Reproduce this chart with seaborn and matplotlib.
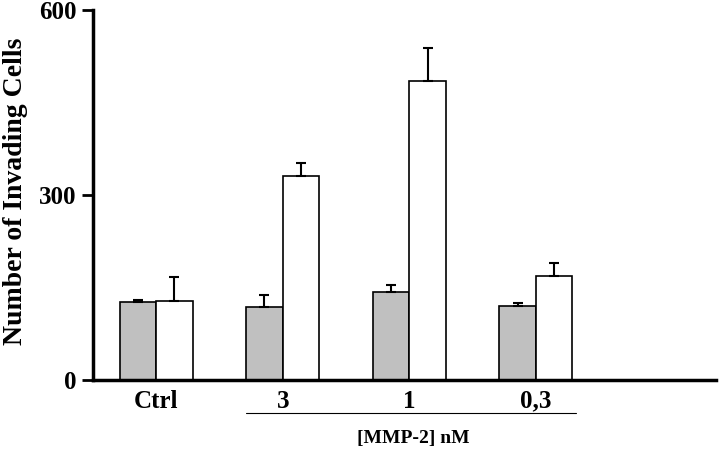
import pandas as pd
import numpy as np
import matplotlib
matplotlib.use("Agg")
import matplotlib.pyplot as plt
import seaborn as sns
from matplotlib.transforms import blended_transform_factory

groups = ["Ctrl", "3", "1", "0,3"]
series = ["gray", "white"]
gray_vals = [126, 118, 143, 120]
gray_err = [4, 20, 10, 4]
white_vals = [128, 330, 485, 168]
white_err = [38, 21, 54, 22]

df = pd.DataFrame({
    "group": groups * 2,
    "series": [series[0]] * 4 + [series[1]] * 4,
    "value": gray_vals + white_vals,
})

sns.set_style("ticks")
plt.rcParams["font.family"] = ["Liberation Serif", "DejaVu Serif"]
plt.rcParams["font.weight"] = "bold"
plt.rcParams["text.color"] = "black"
plt.rcParams["axes.labelcolor"] = "black"
plt.rcParams["axes.edgecolor"] = "black"
plt.rcParams["xtick.color"] = "black"
plt.rcParams["ytick.color"] = "black"

fig = plt.figure(figsize=(7.2, 4.5), dpi=100)
ax = fig.add_axes([0.129, 0.156, 0.865, 0.822])

sns.barplot(data=df, x="group", y="value", hue="series", order=groups,
            hue_order=series, palette={"gray": "#c0c0c0", "white": "white"},
            width=0.577, gap=0, edgecolor="black", linewidth=1.2,
            errorbar=None, legend=False, ax=ax)

# upper-only error bars placed on the drawn bars
errs = gray_err + white_err
for p, e in zip(ax.patches, errs):
    xc = p.get_x() + p.get_width() / 2
    h = p.get_height()
    ax.errorbar([xc], [h], yerr=[[0], [e]], fmt="none", ecolor="black",
                elinewidth=1.5, capsize=3.5, capthick=1.5, zorder=3)

ax.set_ylim(0, 600)
ax.set_xlim(-0.5, 4.42)
ax.set_yticks([0, 300, 600])
ax.set_xlabel("")
ax.set_ylabel("Number of Invading Cells", fontsize=20, fontweight="bold")
ax.yaxis.set_label_coords(-0.104, 0.51)
ax.tick_params(axis="x", length=0, labelsize=18, pad=7)
ax.tick_params(axis="y", length=8, width=2, labelsize=18, pad=4)
for lab in ax.get_xticklabels() + ax.get_yticklabels():
    lab.set_fontweight("bold")
sns.despine(ax=ax)
ax.spines["left"].set_linewidth(2.5)
ax.spines["bottom"].set_linewidth(2.5)

tr = blended_transform_factory(ax.transData, ax.transAxes)
ax.plot([0.71, 3.32], [-0.09, -0.09], color="black", lw=0.8,
        transform=tr, clip_on=False)
ax.text(2.03, -0.16, "[MMP-2] nM", transform=tr, ha="center", va="center",
        fontsize=14, fontweight="bold")

fig.savefig("out.png", dpi=100)
